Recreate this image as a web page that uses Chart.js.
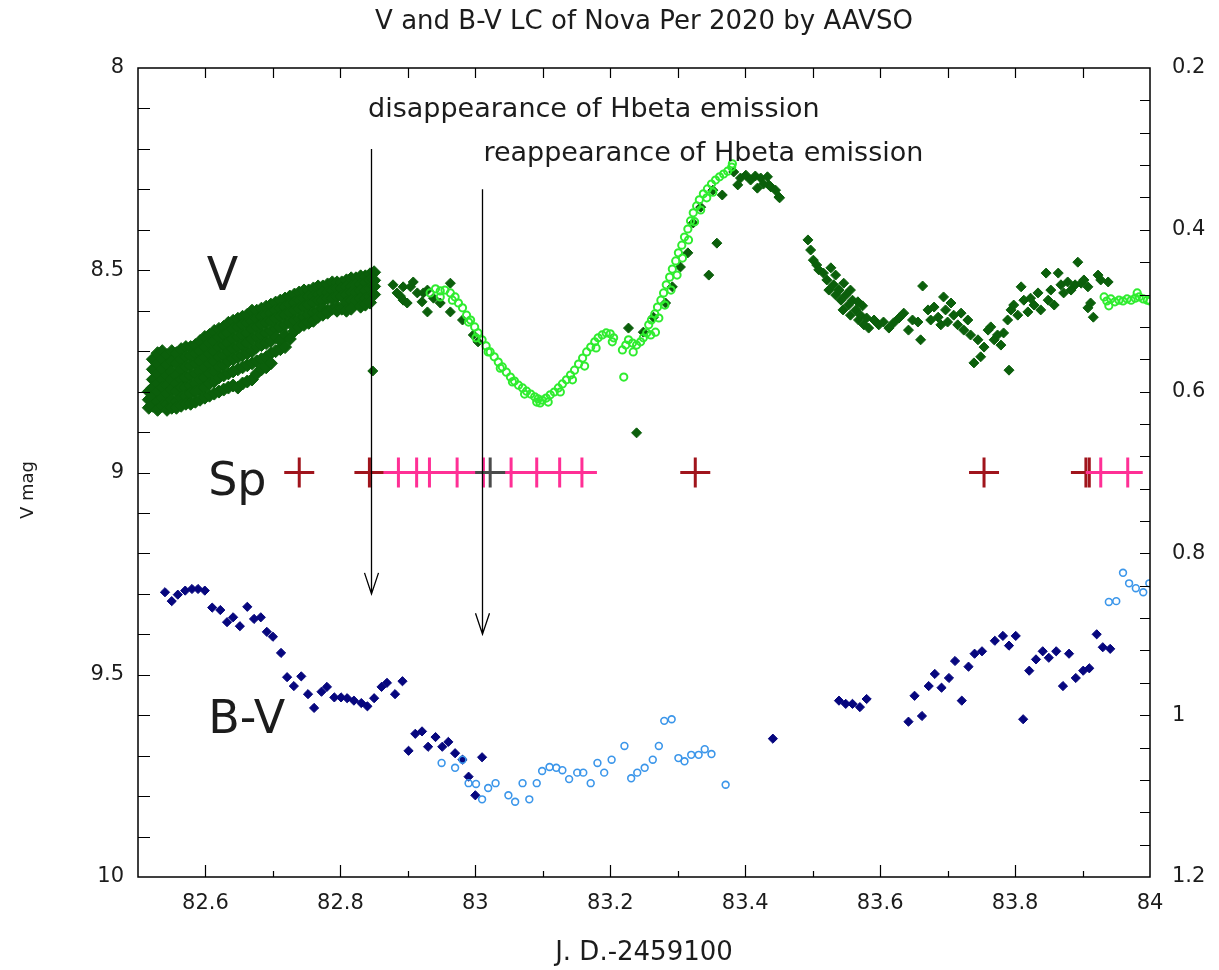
<!DOCTYPE html>
<html>
<head>
<meta charset="utf-8">
<title>V and B-V LC of Nova Per 2020 by AAVSO</title>
<script src="https://cdn.jsdelivr.net/npm/chart.js@4.4.1/dist/chart.umd.min.js"></script>
<style>
  html, body { margin: 0; padding: 0; background: #fff; }
  #wrap { width: 1219px; height: 970px; }
</style>
</head>
<body>
<div id="wrap"><canvas id="lc" width="1219" height="970"></canvas></div>
<script>
// axis ranges and tick labels
const jdRange = [82.5, 84];
const vRange = [8, 10];
const bvRange = [0.2, 1.2];
const jdTicks = [82.6, 82.8, 83, 83.2, 83.4, 83.6, 83.8, 84];
const vTicks = [8, 8.5, 9, 9.5, 10];
const bvTicks = [0.2, 0.4, 0.6, 0.8, 1, 1.2];

// V, dense early run: [JD, [mags at that JD]]
const vDarkCols = [
  [82.516, [8.80, 8.82, 8.84]],
  [82.522, [8.72, 8.745, 8.77, 8.79, 8.815, 8.835]],
  [82.529, [8.705, 8.73, 8.755, 8.78, 8.80, 8.825, 8.845]],
  [82.536, [8.70, 8.72, 8.745, 8.77, 8.79, 8.815, 8.835]],
  [82.543, [8.71, 8.735, 8.76, 8.785, 8.805, 8.83, 8.845]],
  [82.550, [8.70, 8.725, 8.75, 8.77, 8.795, 8.82, 8.84]],
  [82.557, [8.705, 8.73, 8.76, 8.78, 8.80, 8.825, 8.84]],
  [82.564, [8.695, 8.72, 8.745, 8.77, 8.79, 8.815, 8.835]],
  [82.571, [8.69, 8.715, 8.74, 8.765, 8.79, 8.81, 8.83]],
  [82.578, [8.69, 8.71, 8.735, 8.76, 8.785, 8.805, 8.83]],
  [82.585, [8.685, 8.705, 8.73, 8.755, 8.78, 8.80, 8.825]],
  [82.592, [8.675, 8.70, 8.725, 8.75, 8.77, 8.795, 8.82]],
  [82.599, [8.665, 8.69, 8.715, 8.74, 8.765, 8.79, 8.815]],
  [82.606, [8.66, 8.68, 8.705, 8.73, 8.755, 8.78, 8.81]],
  [82.613, [8.65, 8.675, 8.70, 8.725, 8.75, 8.775, 8.805]],
  [82.620, [8.645, 8.665, 8.69, 8.715, 8.74, 8.765, 8.80]],
  [82.627, [8.64, 8.66, 8.685, 8.71, 8.735, 8.76, 8.795]],
  [82.634, [8.63, 8.655, 8.68, 8.70, 8.725, 8.755, 8.79]],
  [82.641, [8.625, 8.645, 8.67, 8.695, 8.72, 8.75, 8.785]],
  [82.648, [8.62, 8.64, 8.665, 8.69, 8.715, 8.745, 8.79]],
  [82.655, [8.615, 8.635, 8.66, 8.685, 8.71, 8.74, 8.78]],
  [82.662, [8.61, 8.63, 8.655, 8.68, 8.705, 8.735, 8.775]],
  [82.669, [8.60, 8.625, 8.645, 8.67, 8.70, 8.73, 8.77]],
  [82.676, [8.60, 8.62, 8.64, 8.665, 8.69, 8.725, 8.755]],
  [82.683, [8.595, 8.615, 8.635, 8.66, 8.685, 8.72, 8.745]],
  [82.690, [8.59, 8.61, 8.63, 8.655, 8.68, 8.715, 8.74]],
  [82.697, [8.585, 8.605, 8.625, 8.65, 8.675, 8.705, 8.73]],
  [82.704, [8.58, 8.60, 8.62, 8.645, 8.665, 8.70]],
  [82.711, [8.575, 8.595, 8.615, 8.64, 8.675, 8.695]],
  [82.718, [8.57, 8.59, 8.61, 8.635, 8.66, 8.69]],
  [82.725, [8.565, 8.585, 8.605, 8.63, 8.67]],
  [82.732, [8.56, 8.58, 8.60, 8.625, 8.65]],
  [82.739, [8.555, 8.575, 8.595, 8.62, 8.64]],
  [82.746, [8.55, 8.57, 8.59, 8.615, 8.635]],
  [82.753, [8.55, 8.565, 8.585, 8.61, 8.63]],
  [82.760, [8.545, 8.565, 8.58, 8.605, 8.625]],
  [82.767, [8.54, 8.56, 8.575, 8.60, 8.615]],
  [82.774, [8.54, 8.555, 8.575, 8.595, 8.61]],
  [82.781, [8.535, 8.555, 8.57, 8.60, 8.605]],
  [82.788, [8.53, 8.55, 8.57, 8.595]],
  [82.795, [8.53, 8.545, 8.565, 8.59, 8.60]],
  [82.802, [8.53, 8.545, 8.565, 8.595]],
  [82.809, [8.525, 8.54, 8.56, 8.58, 8.60]],
  [82.816, [8.52, 8.54, 8.555, 8.575, 8.595]],
  [82.823, [8.52, 8.535, 8.555, 8.575]],
  [82.830, [8.515, 8.535, 8.55, 8.57, 8.59]],
  [82.837, [8.515, 8.53, 8.55, 8.57, 8.585]],
  [82.844, [8.51, 8.525, 8.545, 8.565, 8.58]],
  [82.850, [8.505, 8.525, 8.54, 8.56]]
];

// V, remaining filled-diamond measurements [JD, mag]
const vDark = [
  [82.848, 8.749],
  [82.878, 8.536], [82.884, 8.556], [82.889, 8.564], [82.893, 8.541], [82.893, 8.574],
  [82.899, 8.581], [82.904, 8.541], [82.908, 8.529], [82.914, 8.556], [82.921, 8.578],
  [82.923, 8.556], [82.929, 8.549], [82.929, 8.603], [82.938, 8.569], [82.948, 8.581],
  [82.963, 8.532], [82.963, 8.603], [82.981, 8.623], [82.997, 8.660], [83.004, 8.677],
  [83.227, 8.643], [83.239, 8.902],
  [83.249, 8.653], [83.264, 8.616], [83.282, 8.581], [83.292, 8.541], [83.304, 8.492],
  [83.315, 8.457], [83.323, 8.383], [83.334, 8.344], [83.352, 8.302],
  [83.346, 8.512], [83.358, 8.433],
  [83.366, 8.314], [83.383, 8.257], [83.389, 8.289], [83.393, 8.272], [83.401, 8.265],
  [83.408, 8.277], [83.415, 8.267], [83.418, 8.297], [83.423, 8.272], [83.427, 8.287],
  [83.433, 8.269], [83.435, 8.289], [83.438, 8.294], [83.445, 8.302], [83.450, 8.319],
  [83.451, 8.321],
  [83.493, 8.425], [83.497, 8.450], [83.501, 8.475], [83.506, 8.487], [83.509, 8.499],
  [83.516, 8.507], [83.521, 8.524], [83.524, 8.549], [83.527, 8.494], [83.531, 8.536],
  [83.534, 8.512], [83.534, 8.561], [83.539, 8.549], [83.542, 8.574], [83.545, 8.598],
  [83.546, 8.532], [83.549, 8.561], [83.553, 8.586], [83.556, 8.549], [83.556, 8.611],
  [83.559, 8.574], [83.564, 8.598], [83.567, 8.578], [83.568, 8.623], [83.571, 8.611],
  [83.574, 8.588], [83.576, 8.635], [83.580, 8.618], [83.583, 8.643], [83.591, 8.623],
  [83.598, 8.635], [83.605, 8.628], [83.613, 8.643], [83.620, 8.630], [83.628, 8.618],
  [83.635, 8.606], [83.642, 8.648], [83.648, 8.623], [83.656, 8.628], [83.660, 8.672],
  [83.663, 8.539], [83.671, 8.598], [83.675, 8.623], [83.680, 8.591], [83.686, 8.616],
  [83.690, 8.635], [83.694, 8.566], [83.697, 8.598], [83.700, 8.628], [83.705, 8.581],
  [83.709, 8.611], [83.715, 8.635], [83.720, 8.606], [83.724, 8.648], [83.730, 8.623],
  [83.734, 8.660], [83.739, 8.729], [83.745, 8.672], [83.749, 8.714], [83.754, 8.690],
  [83.760, 8.648], [83.764, 8.640], [83.769, 8.672], [83.774, 8.660], [83.779, 8.685],
  [83.783, 8.655], [83.789, 8.623], [83.791, 8.747], [83.794, 8.598], [83.798, 8.586],
  [83.804, 8.611], [83.809, 8.541], [83.813, 8.574], [83.819, 8.603], [83.823, 8.569],
  [83.828, 8.586], [83.834, 8.556], [83.838, 8.598], [83.846, 8.507], [83.849, 8.574],
  [83.853, 8.549], [83.858, 8.586], [83.864, 8.507], [83.868, 8.536], [83.872, 8.556],
  [83.878, 8.529], [83.883, 8.549], [83.889, 8.536], [83.893, 8.480], [83.898, 8.532],
  [83.902, 8.524], [83.908, 8.541], [83.908, 8.593], [83.912, 8.581], [83.916, 8.616],
  [83.923, 8.512], [83.927, 8.524], [83.938, 8.529]
];

// V, open-circle measurements [JD, mag]
const vLight = [
  [82.933, 8.556], [82.941, 8.546], [82.948, 8.551], [82.948, 8.566], [82.955, 8.549],
  [82.963, 8.556], [82.966, 8.574], [82.970, 8.566], [82.975, 8.581], [82.981, 8.593],
  [82.987, 8.611], [82.990, 8.628], [82.993, 8.623], [82.999, 8.640], [83.001, 8.667],
  [83.004, 8.655], [83.010, 8.672], [83.016, 8.687], [83.019, 8.702], [83.022, 8.702],
  [83.028, 8.714], [83.034, 8.727], [83.037, 8.742], [83.040, 8.739], [83.046, 8.752],
  [83.052, 8.764], [83.055, 8.776], [83.058, 8.774], [83.064, 8.784], [83.070, 8.791],
  [83.073, 8.806], [83.076, 8.799], [83.082, 8.806], [83.088, 8.813], [83.091, 8.826],
  [83.093, 8.818], [83.096, 8.828], [83.099, 8.821], [83.105, 8.816], [83.108, 8.826],
  [83.111, 8.808], [83.117, 8.801], [83.123, 8.791], [83.126, 8.801], [83.129, 8.781],
  [83.135, 8.771], [83.141, 8.759], [83.144, 8.771], [83.147, 8.747], [83.153, 8.732],
  [83.159, 8.717], [83.162, 8.737], [83.165, 8.702], [83.171, 8.690], [83.177, 8.677],
  [83.179, 8.692], [83.182, 8.667], [83.188, 8.660], [83.194, 8.655], [83.200, 8.657],
  [83.203, 8.677], [83.205, 8.667],
  [83.218, 8.697], [83.220, 8.764],
  [83.223, 8.685], [83.227, 8.672], [83.233, 8.680], [83.234, 8.702], [83.239, 8.685],
  [83.245, 8.677], [83.249, 8.667], [83.254, 8.655], [83.257, 8.635], [83.260, 8.660],
  [83.261, 8.623], [83.266, 8.608], [83.267, 8.653], [83.270, 8.591], [83.272, 8.618],
  [83.275, 8.574], [83.279, 8.556], [83.281, 8.586], [83.283, 8.536], [83.288, 8.517],
  [83.290, 8.549], [83.292, 8.497], [83.297, 8.477], [83.299, 8.512], [83.301, 8.457],
  [83.306, 8.438], [83.307, 8.470], [83.310, 8.418], [83.315, 8.398], [83.316, 8.425],
  [83.319, 8.378], [83.323, 8.358], [83.325, 8.380], [83.328, 8.341], [83.332, 8.326],
  [83.334, 8.351], [83.338, 8.311], [83.343, 8.321], [83.344, 8.299], [83.350, 8.287],
  [83.352, 8.307], [83.356, 8.277], [83.362, 8.269], [83.368, 8.262], [83.374, 8.255],
  [83.380, 8.245], [83.381, 8.237],
  [83.932, 8.566], [83.936, 8.576], [83.939, 8.588], [83.942, 8.571], [83.948, 8.578],
  [83.954, 8.574], [83.960, 8.576], [83.966, 8.571], [83.972, 8.574], [83.978, 8.569],
  [83.981, 8.556], [83.984, 8.566], [83.990, 8.571], [83.996, 8.574], [84.000, 8.576]
];

// B-V, filled diamonds [JD, colour index]
const bvDark = [
  [82.540, 0.848], [82.550, 0.859], [82.559, 0.851], [82.570, 0.846], [82.580, 0.844],
  [82.589, 0.844], [82.599, 0.846], [82.610, 0.867], [82.622, 0.870], [82.632, 0.885],
  [82.641, 0.879], [82.651, 0.890], [82.662, 0.866], [82.672, 0.881], [82.682, 0.879],
  [82.691, 0.897], [82.700, 0.903], [82.712, 0.923], [82.721, 0.953], [82.731, 0.964],
  [82.742, 0.952], [82.752, 0.974], [82.761, 0.991], [82.772, 0.971], [82.780, 0.965],
  [82.791, 0.978], [82.801, 0.978], [82.810, 0.979], [82.820, 0.982], [82.831, 0.985],
  [82.840, 0.989], [82.850, 0.979], [82.861, 0.965], [82.869, 0.960], [82.881, 0.974],
  [82.892, 0.958], [82.901, 1.044], [82.911, 1.023], [82.921, 1.020], [82.930, 1.039],
  [82.941, 1.027], [82.951, 1.039], [82.960, 1.033], [82.970, 1.047], [82.981, 1.055],
  [82.990, 1.076], [83.000, 1.099], [83.010, 1.052], [83.441, 1.029],
  [83.539, 0.982], [83.549, 0.986], [83.559, 0.986], [83.570, 0.990], [83.580, 0.980],
  [83.642, 1.008], [83.651, 0.976], [83.662, 1.001], [83.672, 0.964], [83.681, 0.949],
  [83.691, 0.966], [83.702, 0.954], [83.711, 0.933], [83.721, 0.982], [83.731, 0.940],
  [83.740, 0.924], [83.751, 0.921], [83.770, 0.908], [83.782, 0.902], [83.791, 0.914],
  [83.801, 0.902], [83.812, 1.005], [83.821, 0.945], [83.831, 0.931], [83.841, 0.921],
  [83.850, 0.929], [83.861, 0.921], [83.871, 0.964], [83.880, 0.924], [83.890, 0.954],
  [83.901, 0.945], [83.910, 0.942], [83.921, 0.900], [83.930, 0.916], [83.941, 0.918]
];

// B-V, open circles [JD, colour index]
const bvLight = [
  [82.950, 1.059], [82.970, 1.065], [82.981, 1.055], [82.990, 1.084], [83.001, 1.085],
  [83.010, 1.104], [83.019, 1.090], [83.030, 1.084], [83.049, 1.099], [83.059, 1.107],
  [83.070, 1.084], [83.080, 1.104], [83.091, 1.084], [83.099, 1.069], [83.110, 1.064],
  [83.120, 1.065], [83.129, 1.068], [83.139, 1.079], [83.151, 1.071], [83.160, 1.071],
  [83.171, 1.084], [83.181, 1.059], [83.191, 1.071], [83.202, 1.055], [83.221, 1.038],
  [83.231, 1.078], [83.240, 1.071], [83.251, 1.065], [83.263, 1.055], [83.272, 1.038],
  [83.280, 1.007], [83.291, 1.005], [83.301, 1.053], [83.310, 1.057], [83.320, 1.049],
  [83.331, 1.049], [83.340, 1.042], [83.350, 1.048], [83.371, 1.086],
  [83.939, 0.860], [83.950, 0.859], [83.960, 0.824], [83.969, 0.837], [83.979, 0.843],
  [83.990, 0.848], [83.999, 0.837]
];

// spectra dates, plotted on the Sp row
const spLevel = 9;
const spRed = [82.739, 82.843, 83.326, 83.754, 83.905, 83.910];
const spPink = [82.886, 82.913, 82.932, 82.973, 83.012, 83.053, 83.091, 83.125, 83.158, 83.927, 83.967];
const spGray = [83.022];

// Hbeta arrows (JD, V from -> V to) and their captions
const arrows = [
  { jd: 82.846, from: 8.2, to: 9.3 },
  { jd: 83.010, from: 8.3, to: 9.4 }
];
const notes = [
  { text: 'disappearance of Hbeta emission', jd: 82.841, v: 8.121 },
  { text: 'reappearance of Hbeta emission', jd: 83.012, v: 8.229 }
];
const rowLabels = [
  { text: 'V', jd: 82.602, v: 8.549 },
  { text: 'Sp', jd: 82.604, v: 9.056 },
  { text: 'B-V', jd: 82.604, v: 9.644 }
];

const FONT = "'DejaVu Sans', 'Liberation Sans', sans-serif";
const INK = '#1c1c1c';

const toXY = (arr) => arr.map(([x, y]) => ({ x, y }));
const bandPts = [];
vDarkCols.forEach(([jd, mags]) => mags.forEach((m) => bandPts.push({ x: jd, y: m })));
const spPts = (arr) => arr.map((jd) => ({ x: jd, y: spLevel }));

// title, frame, inward ticks, arrows and text labels
const frameAndNotes = {
  id: 'frameAndNotes',
  afterDatasetsDraw(chart) {
    const { ctx, chartArea: a, scales } = chart;
    const x = scales.x, y = scales.y, y2 = scales.y2;
    ctx.save();

    // title, centred over the plot box
    ctx.fillStyle = INK;
    ctx.textAlign = 'center';
    ctx.textBaseline = 'middle';
    ctx.font = '26px ' + FONT;
    ctx.fillText('V and B-V LC of Nova Per 2020 by AAVSO', (a.left + a.right) / 2, 22);

    // arrows
    ctx.strokeStyle = '#000';
    ctx.lineWidth = 1.3;
    arrows.forEach((ar) => {
      const px = Math.round(x.getPixelForValue(ar.jd)) + 0.5;
      const top = y.getPixelForValue(ar.from);
      const tip = y.getPixelForValue(ar.to);
      ctx.beginPath();
      ctx.moveTo(px, top);
      ctx.lineTo(px, tip);
      ctx.moveTo(px - 7, tip - 21);
      ctx.lineTo(px, tip);
      ctx.lineTo(px + 7, tip - 21);
      ctx.stroke();
    });

    // captions
    ctx.textAlign = 'left';
    ctx.textBaseline = 'alphabetic';
    ctx.font = '27px ' + FONT;
    notes.forEach((n) => {
      ctx.fillText(n.text, x.getPixelForValue(n.jd), y.getPixelForValue(n.v));
    });
    ctx.font = '46px ' + FONT;
    rowLabels.forEach((n) => {
      ctx.fillText(n.text, x.getPixelForValue(n.jd), y.getPixelForValue(n.v));
    });

    // left axis title
    ctx.save();
    ctx.translate(28, 490);
    ctx.rotate(-Math.PI / 2);
    ctx.textAlign = 'center';
    ctx.textBaseline = 'middle';
    ctx.font = '18px ' + FONT;
    ctx.fillText('V mag', 0, 0);
    ctx.restore();

    // border
    ctx.strokeStyle = '#000';
    ctx.lineWidth = 1.5;
    ctx.strokeRect(a.left, a.top, a.right - a.left, a.bottom - a.top);

    ctx.lineWidth = 1.2;
    ctx.beginPath();
    // bottom and top ticks every 0.1 d
    for (let i = 1; i < 15; i++) {
      const v = jdRange[0] + i * 0.1;
      const px = Math.round(x.getPixelForValue(v)) + 0.5;
      const major = i % 2 === 1;
      ctx.moveTo(px, a.bottom);
      ctx.lineTo(px, a.bottom - (major ? 12 : 6));
      ctx.moveTo(px, a.top);
      ctx.lineTo(px, a.top + 10);
    }
    // left ticks every 0.1 mag
    for (let i = 1; i < 20; i++) {
      const py = Math.round(y.getPixelForValue(vRange[0] + i * 0.1)) + 0.5;
      ctx.moveTo(a.left, py);
      ctx.lineTo(a.left + 12, py);
    }
    // right ticks every 0.04
    for (let i = 1; i < 25; i++) {
      const py = Math.round(y2.getPixelForValue(bvRange[0] + i * 0.04)) + 0.5;
      ctx.moveTo(a.right, py);
      ctx.lineTo(a.right - 10, py);
    }
    ctx.stroke();
    ctx.restore();
  }
};

const tickFont = { family: FONT, size: 21 };
const fixedTicks = (list) => (scale) => {
  scale.ticks = list.map((value) => ({ value }));
};

Chart.defaults.font.family = FONT;

const darkGreen = '#0b5f0b';

new Chart(document.getElementById('lc'), {
  type: 'scatter',
  data: {
    datasets: [
      {
        label: 'V', data: bandPts, yAxisID: 'y', order: 8,
        pointStyle: 'rectRot', pointRadius: 6.5, borderWidth: 1,
        backgroundColor: darkGreen, borderColor: darkGreen
      },
      {
        label: 'V', data: toXY(vDark), yAxisID: 'y', order: 7,
        pointStyle: 'rectRot', pointRadius: 5, borderWidth: 1,
        backgroundColor: darkGreen, borderColor: darkGreen
      },
      {
        label: 'V', data: toXY(vLight), yAxisID: 'y', order: 6,
        pointStyle: 'circle', pointRadius: 3.6, borderWidth: 2,
        backgroundColor: 'rgba(0,0,0,0)', borderColor: '#2fec2f'
      },
      {
        label: 'B-V', data: toXY(bvDark), yAxisID: 'y2', order: 5,
        pointStyle: 'rectRot', pointRadius: 4.6, borderWidth: 1,
        backgroundColor: '#06067e', borderColor: '#06067e'
      },
      {
        label: 'B-V', data: toXY(bvLight), yAxisID: 'y2', order: 4,
        pointStyle: 'circle', pointRadius: 3.4, borderWidth: 1.6,
        backgroundColor: 'rgba(0,0,0,0)', borderColor: '#3b96ea'
      },
      {
        label: 'Sp', data: spPts(spRed), yAxisID: 'y', order: 3,
        pointStyle: 'cross', pointRadius: 15, borderWidth: 3,
        borderColor: '#a0141c'
      },
      {
        label: 'Sp', data: spPts(spPink), yAxisID: 'y', order: 2,
        pointStyle: 'cross', pointRadius: 15, borderWidth: 3,
        borderColor: '#ff2f95'
      },
      {
        label: 'Sp', data: spPts(spGray), yAxisID: 'y', order: 1,
        pointStyle: 'cross', pointRadius: 15, borderWidth: 3,
        borderColor: '#4a4a4a'
      }
    ]
  },
  options: {
    responsive: false,
    animation: false,
    events: [],
    devicePixelRatio: 1,
    layout: { padding: { top: 68, left: 0, right: 0, bottom: 0 } },
    plugins: {
      legend: { display: false },
      tooltip: { enabled: false },
      title: { display: false }
    },
    scales: {
      x: {
        type: 'linear', position: 'bottom',
        min: jdRange[0], max: jdRange[1],
        afterBuildTicks: fixedTicks(jdTicks),
        afterFit: (s) => { s.height = 93; },
        grid: { display: false, drawTicks: false },
        border: { display: false },
        ticks: {
          autoSkip: false, maxRotation: 0, padding: 14,
          color: INK, font: tickFont,
          callback: (v) => String(v)
        },
        title: {
          display: true, text: 'J. D.-2459100', color: INK,
          font: { family: FONT, size: 26 },
          padding: { top: 0, bottom: 1 }
        }
      },
      y: {
        type: 'linear', position: 'left', reverse: true,
        min: vRange[0], max: vRange[1],
        afterBuildTicks: fixedTicks(vTicks),
        afterFit: (s) => { s.width = 138; },
        grid: { display: false, drawTicks: false },
        border: { display: false },
        ticks: {
          autoSkip: false, padding: 14,
          color: INK, font: tickFont,
          callback: (v) => String(v)
        }
      },
      y2: {
        type: 'linear', position: 'right', reverse: true,
        min: bvRange[0], max: bvRange[1],
        afterBuildTicks: fixedTicks(bvTicks),
        afterFit: (s) => { s.width = 69; },
        grid: { display: false, drawTicks: false },
        border: { display: false },
        ticks: {
          autoSkip: false, padding: 22,
          color: INK, font: tickFont,
          callback: (v) => String(v)
        }
      }
    }
  },
  plugins: [frameAndNotes]
});
</script>
</body>
</html>
